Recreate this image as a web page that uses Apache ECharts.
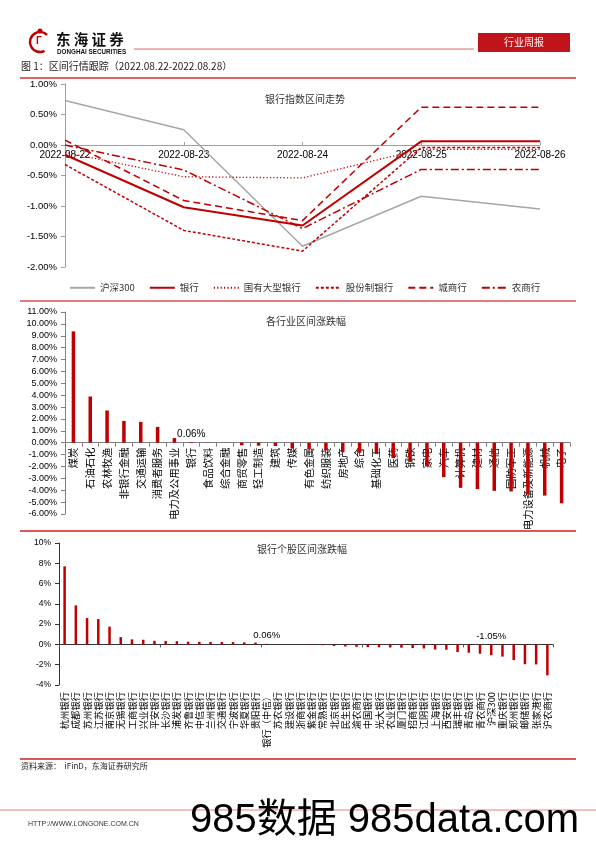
<!DOCTYPE html>
<html><head><meta charset="utf-8">
<script src="https://cdn.jsdelivr.net/npm/echarts@6/dist/echarts.min.js"></script>
<style>html,body{margin:0;padding:0;background:#fff}#c{width:596px;height:842px}</style>
</head><body><div id="c"></div>
<script>
// ---------- data ----------
const lineDates = ['2022-08-22','2022-08-23','2022-08-24','2022-08-25','2022-08-26'];
const hs300      = [0.73, 0.25, -1.66, -0.84, -1.05];
const bankIdx    = [-0.16, -1.02, -1.32, 0.06, 0.06];
const stateBank  = [-0.12, -0.52, -0.54, -0.07, -0.07];
const jointBank  = [-0.32, -1.40, -1.74, -0.04, -0.04];
const cityBank   = [0.08, -0.91, -1.24, 0.62, 0.62];
const ruralBank  = [0.00, -0.41, -1.37, -0.40, -0.40];

const industries = ['煤炭','石油石化','农林牧渔','非银行金融','交通运输','消费者服务','电力及公用事业','银行','食品饮料','综合金融','商贸零售','轻工制造','建筑','传媒','有色金属','纺织服装','房地产','综合','基础化工','医药','钢铁','家电','汽车','计算机','建材','通信','国防军工','电力设备及新能源','机械','电子'];
const industryChg = [9.37, 3.89, 2.71, 1.83, 1.75, 1.33, 0.39, 0.06, 0.02, -0.01, -0.22, -0.25, -0.28, -0.50, -0.55, -0.65, -0.80, -0.85, -0.95, -1.30, -1.60, -2.00, -2.90, -3.80, -3.90, -4.05, -4.10, -4.35, -4.45, -5.10];

const bankStocks = ['杭州银行','成都银行','苏州银行','江苏银行','南京银行','无锡银行','工商银行','兴业银行','平安银行','长沙银行','浦发银行','齐鲁银行','中信银行','兰州银行','交通银行','宁波银行','华夏银行','贵阳银行','银行（中信）','苏农银行','建设银行','浙商银行','紫金银行','常熟银行','北京银行','民生银行','渝农商行','中国银行','光大银行','农业银行','厦门银行','招商银行','江阴银行','上海银行','西安银行','瑞丰银行','青岛银行','青农商行','沪深300','重庆银行','郑州银行','邮储银行','张家港行','沪农商行'];
const bankStockChg = [7.70, 3.85, 2.60, 2.50, 1.75, 0.72, 0.50, 0.46, 0.36, 0.34, 0.32, 0.27, 0.26, 0.25, 0.24, 0.23, 0.20, 0.18, 0.06, 0.02, 0.00, -0.01, -0.03, -0.08, -0.16, -0.20, -0.23, -0.26, -0.28, -0.30, -0.32, -0.36, -0.40, -0.50, -0.52, -0.75, -0.82, -0.92, -1.05, -1.20, -1.55, -1.95, -1.97, -3.05];

const industryLabeled = ['银行'];
const stockLabeled = ['银行（中信）','沪深300'];

// ---------- layout / styles ----------
const H = 842;
const RED = '#C00000';
const GRAY = '#A6A6A6';
const AX = '#808080';
const CJK = '"Noto Sans CJK SC", sans-serif';
const NUM = '"Liberation Sans", Arial, sans-serif';

const g1 = {left:65, right:56, top:84, bottom:575};
const g2 = {left:65, right:26, top:312, bottom:328};
const g3 = {left:59, right:43, top:543, bottom:157};
const y1 = {min:-2, max:1, interval:0.5};
const y2 = {min:-6, max:11, interval:1};
const y3 = {min:-4, max:10, interval:2};
// offset that lifts a bottom axis up to the value 0
function zeroOffset(g, y) { return -(H - g.top - g.bottom) * (0 - y.min) / (y.max - y.min); }

const chart = echarts.init(document.getElementById('c'), null, {renderer:'canvas'});

function barData(cats, vals, labeled, fs) {
  return vals.map((v, i) => {
    const o = {value: v};
    if (labeled.includes(cats[i])) {
      o.label = {show: true, position: 'top', distance: 3, formatter: v.toFixed(2) + '%', fontSize: fs, color: '#000', fontFamily: NUM};
    }
    return o;
  });
}

const lineSeries = [
  {name:'沪深300', data:hs300, lineStyle:{color:GRAY, width:1.5, type:'solid'}, itemStyle:{color:GRAY}},
  {name:'银行', data:bankIdx, lineStyle:{color:RED, width:2, type:'solid'}, itemStyle:{color:RED}},
  {name:'国有大型银行', data:stateBank, lineStyle:{color:RED, width:1.3, type:[1.2,2.2]}, itemStyle:{color:RED}},
  {name:'股份制银行', data:jointBank, lineStyle:{color:RED, width:1.5, type:[3,2]}, itemStyle:{color:RED}},
  {name:'城商行', data:cityBank, lineStyle:{color:RED, width:1.5, type:[7,4]}, itemStyle:{color:RED}},
  {name:'农商行', data:ruralBank, lineStyle:{color:RED, width:1.5, type:[8,3,2,3]}, itemStyle:{color:RED}}
].map(s => Object.assign({type:'line', xAxisIndex:0, yAxisIndex:0, symbol:'none', silent:true, animation:false}, s));

const option = {
  animation: false,
  textStyle: {fontFamily: CJK},
  title: [
    {text:'银行指数区间走势', left:300, top:89, textAlign:'center', textStyle:{fontSize:10, fontWeight:'normal', color:'#333', fontFamily:CJK}},
    {text:'各行业区间涨跌幅', left:301, top:311, textAlign:'center', textStyle:{fontSize:10, fontWeight:'normal', color:'#333', fontFamily:CJK}},
    {text:'银行个股区间涨跌幅', left:297, top:539, textAlign:'center', textStyle:{fontSize:10, fontWeight:'normal', color:'#333', fontFamily:CJK}}
  ],
  legend: {
    top: 278, left: 64, itemWidth: 25, itemHeight: 8, itemGap: 14,
    itemStyle: {opacity: 0},
    textStyle: {fontSize: 9.5, color: '#333', fontFamily: CJK},
    data: lineSeries.map(s => s.name)
  },
  grid: [g1, g2, g3],
  xAxis: [
    {type:'category', gridIndex:0, data:lineDates, boundaryGap:false, offset: zeroOffset(g1, y1),
     axisLine:{onZero:false, lineStyle:{color:'#A0A0A0', width:1}},
     axisTick:{show:true, inside:true, length:3, lineStyle:{color:'#A0A0A0'}},
     axisLabel:{fontSize:10, color:'#000', margin:5, fontFamily:NUM, showMinLabel:true, showMaxLabel:true, interval:0}},
    {type:'category', gridIndex:1, data:industries, offset: zeroOffset(g2, y2),
     axisLine:{onZero:false, lineStyle:{color:AX}},
     axisTick:{show:true, length:4, lineStyle:{color:AX}},
     axisLabel:{rotate:90, interval:0, fontSize:10.3, color:'#000', margin:5, fontFamily:CJK}},
    {type:'category', gridIndex:2, data:bankStocks, position:'bottom',
     axisLine:{show:false, onZero:false}, axisTick:{show:false},
     axisLabel:{rotate:90, interval:0, fontSize:9.3, color:'#000', margin:7, fontFamily:CJK}},
    {type:'category', gridIndex:2, data:bankStocks, position:'bottom', offset: zeroOffset(g3, y3),
     axisLine:{onZero:false, lineStyle:{color:'#333'}},
     axisTick:{show:true, length:3, lineStyle:{color:'#555'}},
     axisLabel:{show:false}}
  ],
  yAxis: [
    Object.assign({type:'value', gridIndex:0,
     axisLine:{show:true, lineStyle:{color:'#A0A0A0'}}, axisTick:{show:true, length:4, lineStyle:{color:'#A0A0A0'}},
     splitLine:{show:false},
     axisLabel:{fontSize:9.5, color:'#000', margin:8, fontFamily:NUM, formatter:v => v.toFixed(2) + '%'}}, y1),
    Object.assign({type:'value', gridIndex:1,
     axisLine:{show:true, lineStyle:{color:AX}}, axisTick:{show:true, length:4, lineStyle:{color:AX}},
     splitLine:{show:false},
     axisLabel:{fontSize:9, color:'#000', margin:8, fontFamily:NUM, formatter:v => v.toFixed(2) + '%'}}, y2),
    Object.assign({type:'value', gridIndex:2,
     axisLine:{show:true, lineStyle:{color:'#333'}}, axisTick:{show:true, length:4, lineStyle:{color:'#333'}},
     splitLine:{show:false},
     axisLabel:{fontSize:8.5, color:'#000', margin:8, fontFamily:NUM, formatter:v => v + '%'}}, y3)
  ],
  series: lineSeries.concat([
    {type:'bar', xAxisIndex:1, yAxisIndex:1, barWidth:3.5, silent:true,
     itemStyle:{color:RED}, data: barData(industries, industryChg, industryLabeled, 10)},
    {type:'bar', xAxisIndex:2, yAxisIndex:2, barWidth:2.5, silent:true,
     itemStyle:{color:RED}, data: barData(bankStocks, bankStockChg, stockLabeled, 9.5)}
  ]),
  graphic: [
    // header logo
    {type:'arc', shape:{cx:40, cy:42, r:10, startAngle:Math.PI*0.35, endAngle:Math.PI*1.75}, style:{stroke:RED, lineWidth:2.5, fill:null}},
    {type:'circle', shape:{cx:40, cy:31, r:2.5}, style:{fill:RED}},
    {type:'text', x:36, y:36, style:{text:'Г', fontSize:10, fill:RED, fontWeight:'bold'}},
    {type:'text', x:56, y:32, style:{text:'东 海 证 券', fontSize:14.5, fontWeight:'bold', fill:'#111', fontFamily:CJK}},
    {type:'text', x:57, y:49, style:{text:'DONGHAI SECURITIES', fontSize:6.3, fontWeight:'bold', fill:'#111', fontFamily:NUM}},
    {type:'line', shape:{x1:134, y1:49, x2:474, y2:49}, style:{stroke:'#E06666', lineWidth:1}},
    {type:'rect', shape:{x:478, y:33, width:92, height:19}, style:{fill:'#C0131A'}},
    {type:'text', x:524, y:42.5, style:{text:'行业周报', fontSize:10, fill:'#fff', fontFamily:CJK, align:'center', verticalAlign:'middle'}},
    {type:'text', x:21, y:61, style:{text:'图 1：区间行情跟踪（2022.08.22-2022.08.28）', fontSize:10, fill:'#222', fontFamily:CJK}},
    {type:'line', shape:{x1:20, y1:78, x2:576, y2:78}, style:{stroke:'#D03030', lineWidth:1.5}},
    {type:'line', shape:{x1:20, y1:301, x2:576, y2:301}, style:{stroke:'#D85050', lineWidth:1.5}},
    {type:'line', shape:{x1:20, y1:531, x2:576, y2:531}, style:{stroke:'#D02020', lineWidth:1.5}},
    {type:'line', shape:{x1:20, y1:759, x2:576, y2:759}, style:{stroke:'#D02020', lineWidth:1.5}},
    {type:'text', x:21, y:762, style:{text:'资料来源：  iFinD，东海证券研究所', fontSize:8, fill:'#222', fontFamily:CJK}},
    {type:'line', shape:{x1:0, y1:810, x2:596, y2:810}, style:{stroke:'#E88080', lineWidth:1}},
    {type:'text', x:28, y:821, style:{text:'HTTP://WWW.LONGONE.COM.CN', fontSize:7, fill:'#333', fontFamily:NUM}},
    {type:'text', x:190, y:801, style:{text:'985数据 985data.com', fontSize:40, fill:'#000', fontFamily:'"Liberation Sans", "Noto Sans CJK SC", sans-serif'}}
  ]
};
chart.setOption(option);
</script></body></html>
